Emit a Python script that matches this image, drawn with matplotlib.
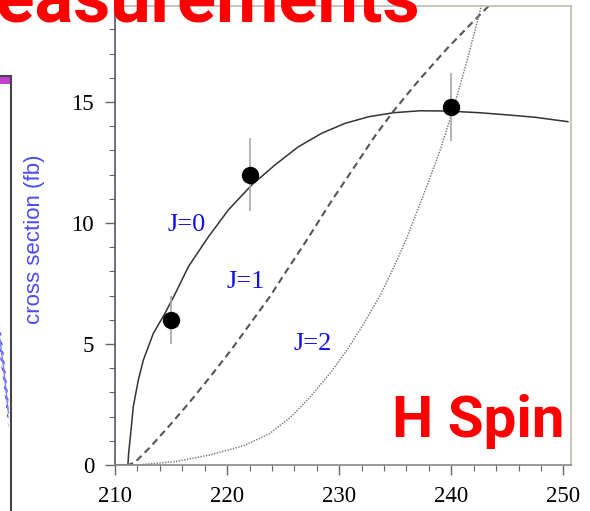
import matplotlib
matplotlib.use('Agg')
import matplotlib.pyplot as plt
from matplotlib.ticker import MultipleLocator

# measured cross sections (fb) vs sqrt(s) (GeV)
energy = [215, 222, 240]
xsec = [6.0, 12.0, 14.8]
xsec_err = [1.0, 1.5, 1.4]

# spin hypotheses
j0_x = [210.0, 211.15, 211.22, 211.34, 211.63, 212.08, 212.53, 213.42, 214.46, 215.36,
        216.54, 218.33, 220.11, 222.19, 224.27, 226.35, 228.44, 230.52, 232.6, 234.85,
        237.23, 239.6, 242.5, 245.0, 247.5, 250.4]
j0_y = [0.0, 0.0, 0.5, 1.03, 2.41, 3.51, 4.34, 5.44, 6.27, 7.07,
        8.19, 9.43, 10.54, 11.57, 12.40, 13.15, 13.71, 14.12, 14.39, 14.56,
        14.64, 14.63, 14.56, 14.47, 14.37, 14.19]

j1_x = [210.0, 211.2, 211.8, 213.1, 214.9, 216.7, 218.5, 220.3, 222.0, 223.8,
        225.2, 227.25, 229.3, 231.4, 233.2, 234.8, 236.3, 237.2, 239.6, 242.0, 243.4]
j1_y = [0.0, 0.0, 0.12, 0.72, 1.65, 2.62, 3.65, 4.72, 5.8, 6.95,
        7.95, 9.4, 10.9, 12.35, 13.6, 14.6, 15.45, 15.95, 17.2, 18.35, 19.0]

j2_x = [210.0, 212.0, 215.5, 218.5, 221.5, 223.8, 225.6, 227.3, 229.2, 230.7,
        232.2, 233.7, 234.9, 236.0, 237.8, 239.0, 240.2, 241.4, 242.7]
j2_y = [0.0, 0.0, 0.15, 0.42, 0.8, 1.3, 1.95, 2.75, 3.8, 4.75,
        5.85, 7.05, 8.2, 9.35, 11.5, 13.0, 14.75, 16.7, 19.0]

labels = ['J=0', 'J=1', 'J=2']
label_x = [216.4, 221.7, 227.6]
label_y = [9.9, 7.55, 5.0]

# neighbouring panel (only its edge shows)
left_band_x = [0.80, 0.85, 0.90, 0.94, 0.97]
left_band_y = [0.44, 0.39, 0.33, 0.27, 0.225]

plt.rcParams['lines.scale_dashes'] = False
plt.rcParams['hatch.linewidth'] = 1.6

fig = plt.figure(figsize=(5.9, 5.11), dpi=100)

axl = fig.add_axes([-0.1, 0.0, 0.1 + 10.5 / 590, 1 - 76 / 511])
axl.set_xlim(0, 1)
axl.set_ylim(0, 1)
for s in ['left', 'bottom']:
    axl.spines[s].set_visible(False)
for s in ['top', 'right']:
    axl.spines[s].set_color('#444444')
    axl.spines[s].set_linewidth(1.5)
axl.set_xticks([])
axl.set_yticks([])
axl.axhspan(0.982, 0.997, color='#c040d0', lw=0)
axl.fill_between(left_band_x, [v - 0.035 for v in left_band_y], [v + 0.035 for v in left_band_y],
                 facecolor='none', edgecolor='#5050ff', hatch='\\\\\\\\', lw=0)
axl.plot(left_band_x, left_band_y, color='#8080ff', lw=1.0)
fig.text(35 / 590, 1 - 239 / 511, 'cross section (fb)', rotation=90, ha='center', va='center',
         fontsize=16, color='#4a4aff', family='Liberation Sans')

ax = fig.add_axes([115 / 590, 1 - 465 / 511, (571 - 115) / 590, (465 - 6) / 511])
ax.plot(j0_x, j0_y, color='#333333', lw=1.1)
ax.plot(j1_x, j1_y, color='#555555', lw=1.5, dashes=(5, 3.2))
ax.plot(j2_x, j2_y, color='#7a7a7a', lw=1.1, dashes=(1, 1))
ax.errorbar(energy, xsec, yerr=xsec_err, fmt='o', color='black', ms=11.5,
            ecolor='#a8a8a8', elinewidth=1.2, capsize=0, zorder=5)

for t, x, y in zip(labels, label_x, label_y):
    ax.text(x, y, t, color='#1010ee', fontsize=19, ha='center', va='center',
            family='Liberation Serif')

ax.set_xlim(210, 250.68)
ax.set_ylim(0, 18.97)
ax.xaxis.set_major_locator(MultipleLocator(10))
ax.xaxis.set_minor_locator(MultipleLocator(2))
ax.yaxis.set_major_locator(MultipleLocator(5))
ax.yaxis.set_minor_locator(MultipleLocator(1))
ax.tick_params(which='both', direction='out', color='#666666', top=False, right=False)
ax.tick_params(which='major', length=7, width=1, labelsize=16.5, pad=8)
ax.tick_params(which='minor', length=4, width=0.8)
for lab in ax.get_xticklabels() + ax.get_yticklabels():
    lab.set_family('Liberation Serif')

ax.spines['left'].set_color('#55556a')
ax.spines['bottom'].set_color('#888888')
for s in ['top', 'right']:
    ax.spines[s].set_color('#bbbbb2')
for s in ax.spines.values():
    s.set_linewidth(1.2)

fig.text(420 / 590, 1 - 22 / 511, 'Measurements', ha='right', va='baseline',
         fontsize=52, fontweight='bold', color='#ff0000', family='Roboto')
fig.text(392 / 590, 1 - 437 / 511, 'H Spin', ha='left', va='baseline',
         fontsize=42, fontweight='bold', color='#ff0000', family='Roboto')

fig.savefig('out.png', dpi=100)
